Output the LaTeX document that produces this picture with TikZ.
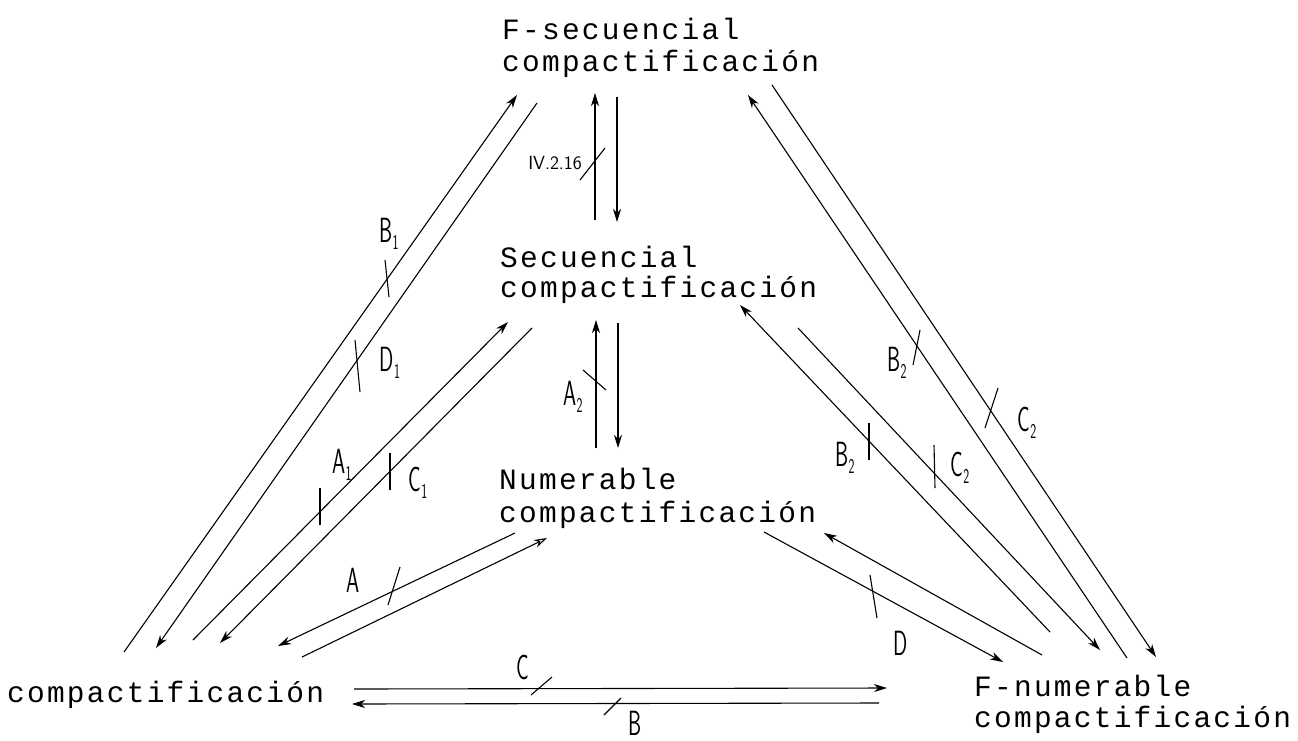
\documentclass[tikz,border=0pt]{standalone}
\usepackage{fontspec}
\usepackage{graphicx}
\setmonofont{Liberation Mono}
\newfontfamily\typew[LetterSpace=7.6]{Liberation Mono}
\usetikzlibrary{arrows.meta}
\newcommand{\hwt}[2]{\scalebox{0.6}[1]{#1}\raisebox{-0.45ex}{\scalebox{0.6}[1]{\fontsize{21}{21}\selectfont #2}}}
\newcommand{\hwo}[1]{\scalebox{0.6}[1]{#1}}
\begin{document}
\begin{tikzpicture}[x=1pt,y=-1pt,
  conn/.style={line width=1.1pt},
  arr/.style={conn,-{Stealth[length=13pt,width=8pt,inset=4pt]}},
  tickmark/.style={line width=1.1pt},
  lbl/.style={font=\fontsize{29.5}{30}\typew,inner sep=0,anchor=base west},
  hand/.style={font=\sffamily\fontsize{35}{35}\selectfont,inner sep=0},
  small/.style={font=\sffamily\fontsize{19}{19}\selectfont,inner sep=0}]
\useasboundingbox[fill=white] (0,0) rectangle (1298,740);

% text nodes
\node[lbl] (fs1) at (502,39) {F-secuencial};
\node[lbl] (fs)  at (502,71) {compactificación};
\node[lbl] (s1)  at (500,267) {Secuencial};
\node[lbl] (s)   at (500,297) {compactificación};
\node[lbl] (n1)  at (499,489) {Numerable};
\node[lbl] (n)   at (499,522) {compactificación};
\node[lbl] (c)   at (7,702) {compactificación};
\node[lbl] (fn1) at (974,696) {F-numerable};
\node[lbl] (fn)  at (974,727) {compactificación};

% connector end points
\coordinate (l1a) at (124,652); \coordinate (l1b) at (517,95);
\coordinate (l2a) at (537,103); \coordinate (l2b) at (156,648);
\coordinate (l3a) at (193,640); \coordinate (l3b) at (508,322);
\coordinate (l4a) at (532,328); \coordinate (l4b) at (220,643);
\coordinate (l5a) at (515,533); \coordinate (l5b) at (278,646);
\coordinate (l6a) at (302,657); \coordinate (l6b) at (547,538);
\coordinate (v1a) at (595,220); \coordinate (v1b) at (595,93);
\coordinate (v2a) at (617,97);  \coordinate (v2b) at (617,222);
\coordinate (v3a) at (596,448); \coordinate (v3b) at (596,320);
\coordinate (v4a) at (618,323); \coordinate (v4b) at (618,448);
\coordinate (r1a) at (1127,658); \coordinate (r1b) at (748,95);
\coordinate (r2a) at (772,85);   \coordinate (r2b) at (1156,657);
\coordinate (r3a) at (1050,632); \coordinate (r3b) at (740,305);
\coordinate (r4a) at (798,328);  \coordinate (r4b) at (1100,650);
\coordinate (l7a) at (764,532);  \coordinate (l7b) at (1003,662);
\coordinate (l8a) at (1042,655); \coordinate (l8b) at (824,533);
\coordinate (h1a) at (354,689);  \coordinate (h1b) at (887,688);
\coordinate (h2a) at (879,703);  \coordinate (h2b) at (352,704);

% connectors
\draw[arr] (l1a) -- (l1b);
\draw[arr] (l2a) -- (l2b);
\draw[arr] (l3a) -- (l3b);
\draw[arr] (l4a) -- (l4b);
\draw[arr] (l5a) -- (l5b);
\draw[conn,-{Stealth[length=13pt,width=8pt,inset=4pt,open]}] (l6a) -- (l6b);
\draw[arr] (v1a) -- (v1b);
\draw[arr] (v2a) -- (v2b);
\draw[arr] (v3a) -- (v3b);
\draw[arr] (v4a) -- (v4b);
\draw[arr] (r1a) -- (r1b);
\draw[arr] (r2a) -- (r2b);
\draw[arr] (r3a) -- (r3b);
\draw[arr] (r4a) -- (r4b);
\draw[arr] (l7a) -- (l7b);
\draw[arr] (l8a) -- (l8b);
\draw[arr] (h1a) -- (h1b);
\draw[arr] (h2a) -- (h2b);

% tick marks
\draw[tickmark] (385,260) -- (389,297);
\draw[tickmark] (355,340) -- (360,392);
\draw[tickmark] (320,488) -- (320,525);
\draw[tickmark] (390,453) -- (390,490);
\draw[tickmark] (400,567) -- (388,605);
\draw[tickmark] (605,148) -- (580,180);
\draw[tickmark] (583,370) -- (606,390);
\draw[tickmark] (920,330) -- (913,365);
\draw[tickmark] (998,388) -- (985,428);
\draw[tickmark] (869,423) -- (869,460);
\draw[tickmark] (934,445) -- (935,488);
\draw[tickmark] (870,575) -- (877,618);
\draw[tickmark] (552,677) -- (531,695);
\draw[tickmark] (621,698) -- (604,715);

% handwritten labels
\node[hand] (tb1) at (389,234) {\hwt{B}{1}};
\node[hand] (td1) at (390,363) {\hwt{D}{1}};
\node[hand] (ta1) at (342,465) {\hwt{A}{1}};
\node[hand] (tc1) at (418,483) {\hwt{C}{1}};
\node[hand] (ta)  at (353,580) {\hwo{A}};
\node[hand] (ta2) at (573,397) {\hwt{A}{2}};
\node[hand] (tb2u) at (897,363) {\hwt{B}{2}};
\node[hand] (tc2u) at (1027,423) {\hwt{C}{2}};
\node[hand] (tb2l) at (845,458) {\hwt{B}{2}};
\node[hand] (tc2l) at (960,468) {\hwt{C}{2}};
\node[hand] (td)  at (901,643) {\hwo{D}};
\node[hand] (tc)  at (523,667) {\hwo{C}};
\node[hand] (tb)  at (635,723) {\hwo{B}};
\node[small] (tiv) at (555,163) {IV.2.16};
\end{tikzpicture}
\end{document}
